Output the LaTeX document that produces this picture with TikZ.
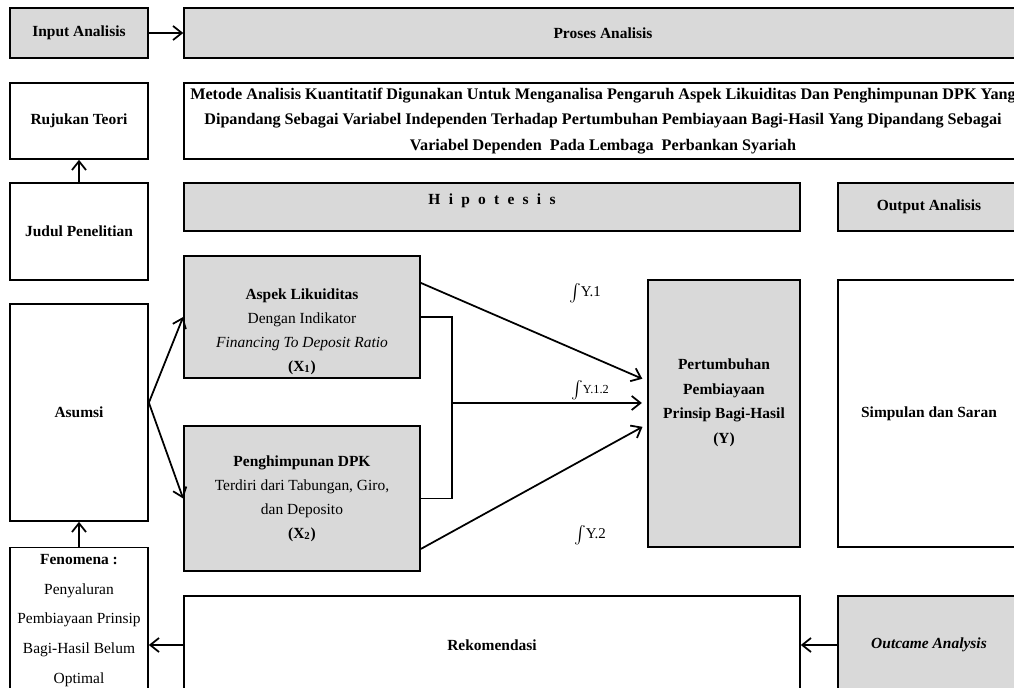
\documentclass[tikz,border=0pt]{standalone}
\usepackage{fontspec}
\setmainfont{Liberation Serif}
\usetikzlibrary{arrows.meta}

\begin{document}
\begin{tikzpicture}[x=0.02cm, y=-0.02cm, line width=1pt,
	font=\fontsize{8.8}{14}\selectfont,
	>={Straight Barb[length=5pt,width=8pt]},
	kotak/.style={draw, inner sep=2pt, align=center},
	abu/.style={kotak, fill=gray!30},
	putih/.style={kotak, fill=white}]
	\useasboundingbox (0,0) rectangle (1014,688);
	\clip (0,0) rectangle (1014,688);

	\node[abu, minimum width=2.76cm, minimum height=1cm] (input) at (79,33) {\textbf{Input Analisis}};
	\node[abu, minimum width=16.76cm, minimum height=1cm] (proses) at (603,33) {\textbf{Proses Analisis}};
	\node[putih, minimum width=2.76cm, minimum height=1.52cm] (rujukan) at (79,121) {\textbf{Rujukan Teori}};
	\node[putih, minimum width=16.76cm, minimum height=1.52cm, font=\fontsize{9.2}{14.5}\selectfont\bfseries] (metode) at (603,121)
		{Metode Analisis Kuantitatif Digunakan Untuk Menganalisa Pengaruh Aspek Likuiditas Dan Penghimpunan DPK Yang\\
		Dipandang Sebagai Variabel Independen Terhadap Pertumbuhan Pembiayaan Bagi-Hasil Yang Dipandang Sebagai\\
		Variabel Dependen\ \ Pada Lembaga\ \ Perbankan Syariah};
	\node[putih, minimum width=2.76cm, minimum height=1.94cm] (judul) at (79,231.5) {\textbf{Judul Penelitian}};
	\node[abu, minimum width=12.32cm, minimum height=0.96cm,
		label={[anchor=north, inner sep=6pt]north:{\bfseries\spaceskip=4.7pt H i p o t e s i s}}] (hipo) at (492,207) {};
	\node[abu, minimum width=3.64cm, minimum height=0.96cm] (output) at (929,207) {\textbf{Output Analisis}};
	\node[putih, minimum width=2.76cm, minimum height=4.34cm] (asumsi) at (79,412.5) {\textbf{Asumsi}};
	\node[putih, minimum width=2.76cm, minimum height=2.92cm, font=\fontsize{8.8}{17}\selectfont] (fenomena) at (79,620.5)
		{\textbf{Fenomena :}\\Penyaluran\\Pembiayaan Prinsip\\Bagi-Hasil Belum\\Optimal};
	\node[abu, minimum width=4.72cm, minimum height=2.44cm, font=\fontsize{8.8}{13.6}\selectfont] (x1) at (302,317)
		{\mbox{}\\[9pt]\textbf{Aspek Likuiditas}\\Dengan Indikator\\\textit{Financing To Deposit Ratio}\\\textbf{(X\textsubscript{1})}};
	\node[abu, minimum width=4.72cm, minimum height=2.90cm, font=\fontsize{8.8}{13.6}\selectfont] (x2) at (302,498.5)
		{\textbf{Penghimpunan DPK}\\Terdiri dari Tabungan, Giro,\\dan Deposito\\\textbf{(X\textsubscript{2})}};
	\node[abu, minimum width=3.04cm, minimum height=5.34cm, font=\fontsize{8.8}{14}\selectfont\bfseries] (y) at (724,413.5)
		{Pertumbuhan\\Pembiayaan\\Prinsip Bagi-Hasil\\(Y)\\\mbox{}};
	\node[putih, minimum width=3.64cm, minimum height=5.34cm] (simpulan) at (929,413.5) {\textbf{Simpulan dan Saran}};
	\node[putih, minimum width=12.32cm, minimum height=1.96cm] (rekom) at (492,645) {\textbf{Rekomendasi}};
	\node[abu, minimum width=3.64cm, minimum height=1.96cm] (outcome) at (929,645) {\textbf{\textit{Outcame Analysis}}};

	% label jalur
	\node[font=\fontsize{8.5}{10}\selectfont] (ly1) at (585,293) {$\int$Y.1};
	\node[font=\fontsize{7}{9}\selectfont] (ly12) at (590,390) {$\int$Y.1.2};
	\node[font=\fontsize{8.5}{10}\selectfont] (ly2) at (590,535) {$\int$Y.2};

	\path [->] (input) edge (proses);
	\path [->] (judul) edge (rujukan);
	\path [->] (fenomena) edge (asumsi);
	\path [->] (asumsi.8) edge (x1.west);
	\path [->] (asumsi.8) edge (x2.west);
	\path [->] (outcome) edge (rekom);
	\path [->] (rekom.west) edge (rekom.west -| fenomena.east);

	\path [->, shorten >=3pt] (x1.16) edge (y.157.5);
	\path [->, shorten >=3pt] (x2.337) edge (y.188);
	\draw (x1.east) -- ++(31,0) |- (x2.east);
	\coordinate (gabung) at (451,403);
	\path [->, shorten >=3pt] (gabung) edge (gabung -| y.west);
\end{tikzpicture}
\end{document}
